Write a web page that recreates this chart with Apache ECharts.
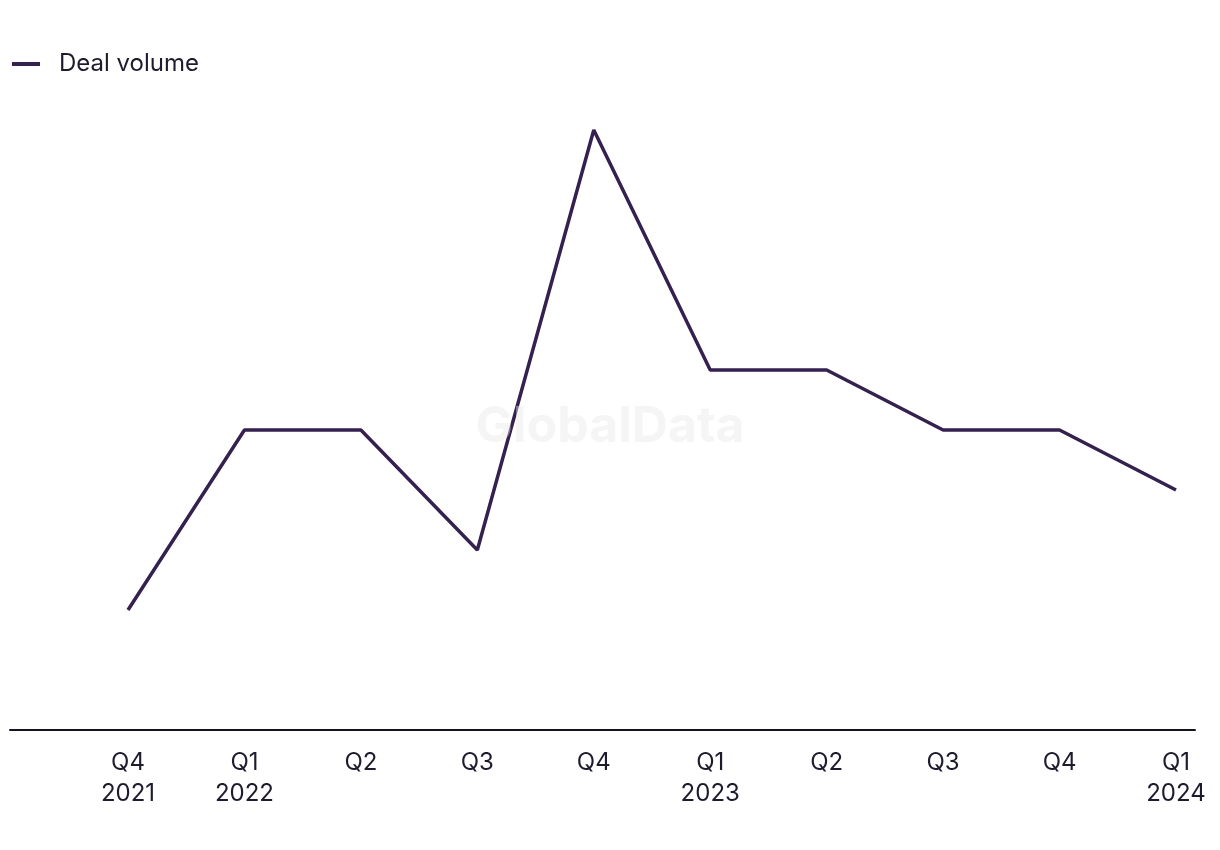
<!DOCTYPE html>
<html>
<head>
<meta charset="utf-8">
<script src="https://cdn.jsdelivr.net/npm/echarts@6/dist/echarts.min.js"></script>
<style>
html,body{margin:0;padding:0;background:#fff;}
#c{width:1220px;height:850px;}
</style>
</head>
<body>
<div id="c"></div>
<script>
var categories = ['Q4\n2021','Q1\n2022','Q2','Q3','Q4','Q1\n2023','Q2','Q3','Q4','Q1\n2024'];
var dealVolume = [2,5,5,3,10,6,6,5,5,4];
var seriesName = 'Deal volume';

var FONT = 'Inter, "Liberation Sans", sans-serif';
var chart = echarts.init(document.getElementById('c'), null, {renderer:'canvas'});
chart.setOption({
  animation:false,
  backgroundColor:'#ffffff',
  legend:{
    left:7, top:47,
    itemWidth:28, itemHeight:14,
    textStyle:{fontFamily:FONT, fontSize:24, color:'#1e1b2e', padding:[0,0,0,14]},
    data:[{name:seriesName, icon:'path://M0,5 L28,5 L28,9 L0,9 Z'}]
  },
  graphic:[{
    type:'text', left:'center', top:402, z:100, silent:true,
    style:{text:'GlobalData', fontFamily:FONT, fontWeight:'bold', fontSize:50, fill:'rgba(232,232,232,0.45)'}
  }],
  grid:[
    {left:128, right:44, top:130, bottom:120},
    {left:10, right:25, top:130, bottom:120}
  ],
  xAxis:[
    {type:'category', gridIndex:0, data:categories, boundaryGap:false,
     axisLine:{show:false}, axisTick:{show:false},
     axisLabel:{fontFamily:FONT, fontSize:24, color:'#1e1b2e', lineHeight:31, margin:17, interval:0}},
    {type:'value', gridIndex:1, min:0, max:1,
     axisLine:{show:true, lineStyle:{color:'#15131f', width:2}},
     axisTick:{show:false}, axisLabel:{show:false}, splitLine:{show:false}}
  ],
  yAxis:[
    {type:'value', gridIndex:0, min:0, max:10, show:false, splitLine:{show:false}},
    {type:'value', gridIndex:1, min:0, max:10, show:false, splitLine:{show:false}}
  ],
  series:[{
    name:seriesName, type:'line', data:dealVolume, xAxisIndex:0, yAxisIndex:0,
    symbol:'none', lineStyle:{color:'#35214f', width:3.5}, itemStyle:{color:'#35214f'}
  }]
});
</script>
</body>
</html>
